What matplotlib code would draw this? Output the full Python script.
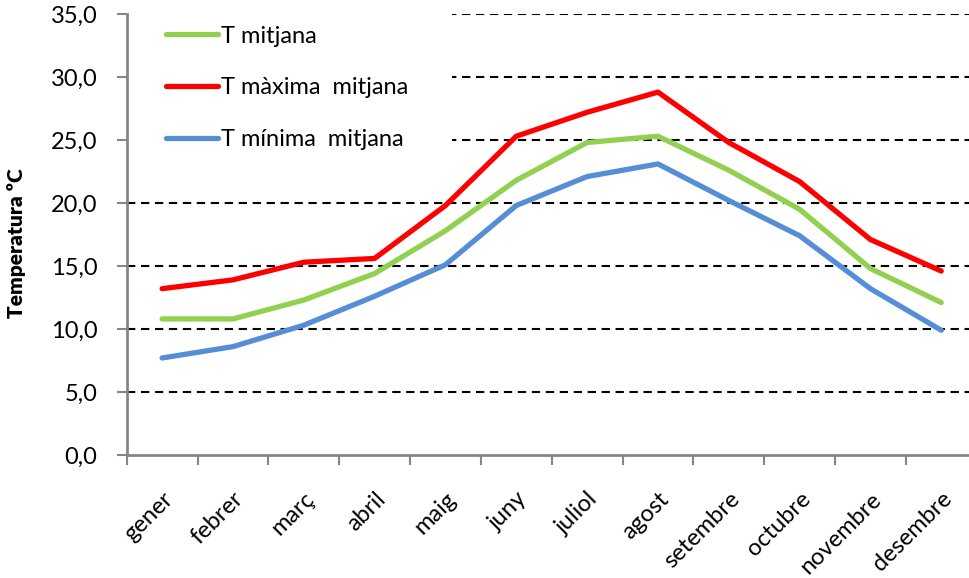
import matplotlib
matplotlib.use("Agg")
import matplotlib.pyplot as plt
from matplotlib.patches import Rectangle
from matplotlib.ticker import FixedLocator, FuncFormatter

plt.rcParams['font.family'] = ['Lato', 'DejaVu Sans']

months = ['gener', 'febrer', 'març', 'abril', 'maig', 'juny', 'juliol', 'agost',
          'setembre', 'octubre', 'novembre', 'desembre']
t_mitjana = [10.8, 10.8, 12.3, 14.4, 17.8, 21.8, 24.8, 25.3, 22.6, 19.5, 14.8, 12.1]
t_maxima = [13.2, 13.9, 15.3, 15.6, 19.8, 25.3, 27.2, 28.8, 24.8, 21.7, 17.1, 14.6]
t_minima = [7.7, 8.6, 10.3, 12.6, 15.1, 19.8, 22.1, 23.1, 20.2, 17.4, 13.2, 9.9]
yticks = [0, 5, 10, 15, 20, 25, 30, 35]

fig = plt.figure(figsize=(9.69, 5.78), dpi=100)
ax = fig.add_axes([126.7/969, 123/578, 850/969, 441/578])

x = list(range(len(months)))
for yv in yticks[1:]:
    ax.axhline(yv, color='black', lw=1.5, ls=(0, (4, 2.7)), zorder=0.5)

ax.add_patch(Rectangle((0, 0.645), 0.383, 0.37, transform=ax.transAxes,
                       facecolor='white', edgecolor='none', zorder=1, clip_on=False))

ax.plot(x, t_mitjana, color='#92D050', lw=3.8, label='T mitjana', zorder=3, solid_capstyle='round')
ax.plot(x, t_maxima, color='#FF0000', lw=3.8, label='T màxima  mitjana', zorder=3, solid_capstyle='round')
ax.plot(x, t_minima, color='#558ED5', lw=3.8, label='T mínima  mitjana', zorder=3, solid_capstyle='round')

ax.set_xlim(-0.5, 11.5)
ax.set_ylim(0, 35)

ax.xaxis.set_major_locator(FixedLocator([i - 0.5 for i in range(13)]))
ax.xaxis.set_major_formatter(FuncFormatter(lambda v, p: ''))
ax.xaxis.set_minor_locator(FixedLocator(x))
ax.set_xticklabels(months, minor=True, rotation=45, ha='right', rotation_mode='anchor', fontsize=17)
ax.tick_params(axis='x', which='minor', length=0, pad=24)
ax.tick_params(axis='x', which='major', length=7, width=1.5, color='#868686')

ax.set_yticks(yticks)
ax.yaxis.set_major_formatter(FuncFormatter(lambda v, p: f"{v:.1f}".replace('.', ',')))
ax.tick_params(axis='y', length=7, width=1.5, color='#868686', labelsize=17, pad=14)

for s in ['top', 'right']:
    ax.spines[s].set_visible(False)
for s in ['left', 'bottom']:
    ax.spines[s].set_color('#868686')
    ax.spines[s].set_linewidth(2)

ax.set_ylabel('Temperatura ºC', fontsize=15, fontweight='heavy')
ax.yaxis.set_label_coords(-0.118, 0.48)

leg = ax.legend(loc='upper left', bbox_to_anchor=(0.021, 1.022), frameon=False, fontsize=17,
                handlelength=2.2, handletextpad=0.15, labelspacing=1.3)
leg.set_zorder(4)

fig.savefig('out.png', dpi=100)
